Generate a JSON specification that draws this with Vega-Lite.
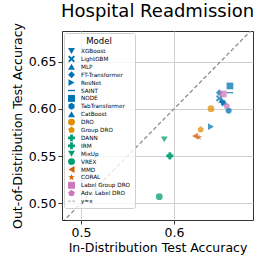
{
  "$schema": "https://vega.github.io/schema/vega-lite/v6.json",
  "width": 191,
  "height": 189,
  "autosize": {"type": "none"},
  "padding": {"left": 62, "top": 31, "right": 13, "bottom": 46},
  "config": {
    "font": "DejaVu Sans",
    "view": {"stroke": "#333333", "strokeWidth": 1},
    "axis": {
      "labelFont": "DejaVu Sans", "titleFont": "DejaVu Sans",
      "labelFontSize": 12.5, "titleFontSize": 12.5, "titleFontWeight": "normal",
      "labelColor": "#000000", "titleColor": "#000000",
      "tickColor": "#333333", "tickSize": 4, "domain": false,
      "gridColor": "#d0d0d0", "gridWidth": 1, "gridOpacity": 1, "labelPadding": 2
    },
    "legend": {
      "orient": "none", "legendX": 2, "legendY": 2,
      "fillColor": "rgba(255,255,255,0.8)", "strokeColor": "#d0d0d0", "cornerRadius": 2,
      "padding": 4, "titleFontSize": 8.5, "titleFontWeight": "normal", "titleColor": "#000000",
      "titleAnchor": "middle", "titleAlign": "center", "titlePadding": 2,
      "labelFontSize": 5.7, "labelColor": "#000000", "labelOffset": 6,
      "symbolSize": 48, "symbolOpacity": 1, "rowPadding": 0.9, "symbolStrokeWidth": 0
    }
  },
  "title": {"text": "Hospital Readmission", "fontSize": 18, "fontWeight": "normal", "font": "DejaVu Sans", "color": "#000000", "offset": 2, "anchor": "middle"},
  "layer": [
    {
      "data": {"values": [{"a": 0.47, "b": 0.47}, {"a": 0.69, "b": 0.69}]},
      "mark": {"type": "line", "clip": true, "color": "#8c8c8c", "strokeDash": [4, 2.5], "strokeWidth": 1.3},
      "encoding": {
        "x": {"field": "a", "type": "quantitative"},
        "y": {"field": "b", "type": "quantitative"}
      }
    },
    {
      "data": {"values": [
        {"model": "XGBoost", "id": 0.6524, "ood": 0.6052},
        {"model": "LightGBM", "id": 0.6487, "ood": 0.6112},
        {"model": "MLP", "id": 0.6513, "ood": 0.6094},
        {"model": "FT-Transformer", "id": 0.6487, "ood": 0.6172},
        {"model": "ResNet", "id": 0.6398, "ood": 0.5811},
        {"model": "SAINT", "id": 0.6602, "ood": 0.6172},
        {"model": "NODE", "id": 0.6602, "ood": 0.6243},
        {"model": "TabTransformer", "id": 0.6588, "ood": 0.5981},
        {"model": "CatBoost", "id": 0.6538, "ood": 0.6073},
        {"model": "DRO", "id": 0.6398, "ood": 0.6002},
        {"model": "Group DRO", "id": 0.6287, "ood": 0.5781},
        {"model": "DANN", "id": 0.5957, "ood": 0.5504},
        {"model": "IRM", "id": 0.5955, "ood": 0.5500},
        {"model": "MixUp", "id": 0.5896, "ood": 0.5678},
        {"model": "VREX", "id": 0.5842, "ood": 0.5070},
        {"model": "MMD", "id": 0.6226, "ood": 0.5713},
        {"model": "CORAL", "id": 0.6269, "ood": 0.5699},
        {"model": "Label Group DRO", "id": 0.6530, "ood": 0.6158},
        {"model": "Adv. Label DRO", "id": 0.6567, "ood": 0.6031}
      ]},
      "mark": {"type": "point", "filled": true, "opacity": 0.75, "size": 45},
      "encoding": {
        "x": {"field": "id", "type": "quantitative", "title": "In-Distribution Test Accuracy",
              "scale": {"domain": [0.4796, 0.685], "nice": false, "zero": false},
              "axis": {"values": [0.5, 0.6], "format": ".1f", "titlePadding": 3}},
        "y": {"field": "ood", "type": "quantitative", "title": "Out-of-Distribution Test Accuracy",
              "scale": {"domain": [0.4823, 0.6825], "nice": false, "zero": false},
              "axis": {"values": [0.5, 0.55, 0.6, 0.65], "format": ".2f", "titlePadding": 4}},
        "color": {"field": "model", "type": "nominal",
          "scale": {
            "domain": ["XGBoost", "LightGBM", "MLP", "FT-Transformer", "ResNet", "SAINT", "NODE", "TabTransformer", "CatBoost", "DRO", "Group DRO", "DANN", "IRM", "MixUp", "VREX", "MMD", "CORAL", "Label Group DRO", "Adv. Label DRO", "y=x"],
            "range": ["#0173b2", "#0173b2", "#0173b2", "#0173b2", "#0173b2", "#0173b2", "#0173b2", "#0173b2", "#0173b2", "#de8f05", "#de8f05", "#029e73", "#029e73", "#029e73", "#029e73", "#d55e00", "#d55e00", "#cc78bc", "#cc78bc", "#8c8c8c"]
          },
          "legend": {"title": "Model"}
        },
        "shape": {"field": "model", "type": "nominal",
          "scale": {
            "domain": ["XGBoost", "LightGBM", "MLP", "FT-Transformer", "ResNet", "SAINT", "NODE", "TabTransformer", "CatBoost", "DRO", "Group DRO", "DANN", "IRM", "MixUp", "VREX", "MMD", "CORAL", "Label Group DRO", "Adv. Label DRO", "y=x"],
            "range": [
              "triangle-down",
              "M-1,-0.6L-0.6,-1L0,-0.4L0.6,-1L1,-0.6L0.4,0L1,0.6L0.6,1L0,0.4L-0.6,1L-1,0.6L-0.4,0Z",
              "triangle-up",
              "diamond",
              "triangle-right",
              "M-1,-0.2H1V0.2H-1Z",
              "square",
              "M0,-1L0.866,-0.5L0.866,0.5L0,1L-0.866,0.5L-0.866,-0.5Z",
              "triangle-up",
              "circle",
              "M0,-1L0.951,-0.309L0.588,0.809L-0.588,0.809L-0.951,-0.309Z",
              "cross",
              "cross",
              "triangle-down",
              "circle",
              "triangle-left",
              "M0,-1L0.225,-0.309L0.951,-0.309L0.363,0.118L0.588,0.809L0,0.382L-0.588,0.809L-0.363,0.118L-0.951,-0.309L-0.225,-0.309Z",
              "square",
              "M0,-1L0.951,-0.309L0.588,0.809L-0.588,0.809L-0.951,-0.309Z",
              "M-1,-0.12H-0.2V0.12H-1Z M0.2,-0.12H1V0.12H0.2Z"
            ]
          },
          "legend": {"title": "Model"}
        }
      }
    }
  ]
}
